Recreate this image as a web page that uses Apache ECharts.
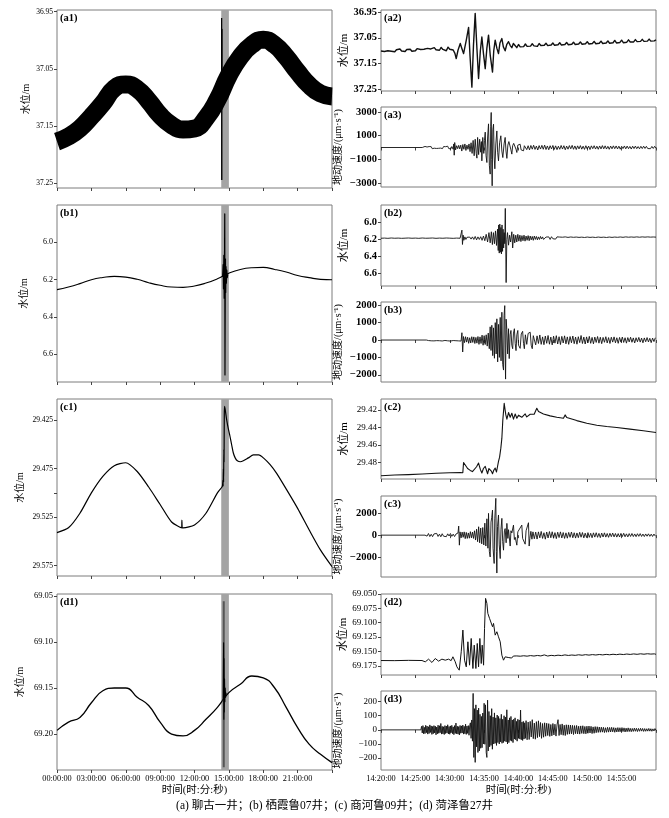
<!DOCTYPE html>
<html><head><meta charset="utf-8">
<script src="https://cdn.jsdelivr.net/npm/echarts@6/dist/echarts.min.js"></script>
<style>html,body{margin:0;padding:0;background:#fff}#c{width:669px;height:818px}</style>
</head><body><div id="c"></div>
<script>
// ---------------- tick labels ----------------
const dayTicks = [0, 3, 6, 9, 12, 15, 18, 21, 24];          // hours
const dayLabels = [0, 3, 6, 9, 12, 15, 18, 21];
const minuteTicks = [0, 5, 10, 15, 20, 25, 30, 35, 40];      // minutes after 14:20:00
const minuteLabels = [0, 5, 10, 15, 20, 25, 30, 35];
const a1Ticks = [36.95, 37.05, 37.15, 37.25];
const a2Ticks = [36.95, 37.05, 37.15, 37.25];
const a3Ticks = [3000, 1000, -1000, -3000];
const b1Ticks = [6.0, 6.2, 6.4, 6.6];
const b2Ticks = [6.0, 6.2, 6.4, 6.6];
const b3Ticks = [2000, 1000, 0, -1000, -2000];
const c1Ticks = [29.425, 29.475, 29.525, 29.575];
const c1MinorTicks = [29.425, 29.475, 29.5, 29.525, 29.575];
const c2Ticks = [29.42, 29.44, 29.46, 29.48];
const c3Ticks = [2000, 0, -2000];
const d1Ticks = [69.05, 69.10, 69.15, 69.20];
const d2Ticks = [69.050, 69.075, 69.100, 69.125, 69.150, 69.175];
const d3Ticks = [200, 100, 0, -100, -200];

// shaded window (hours)
const windowHours = [14.333, 15.0];

// ---------------- left column: 24 h water level (hourly samples, 00:00..24:00) ----------------
const a1Level = [37.177, 37.168, 37.154, 37.133, 37.110, 37.084, 37.077, 37.085, 37.106, 37.131, 37.148, 37.156, 37.154, 37.136, 37.104, 37.061, 37.029, 37.008, 36.999, 37.008, 37.029, 37.055, 37.078, 37.093, 37.098];
const a1Spike = [[14.36, 37.100], [14.37, 36.961], [14.38, 37.244], [14.39, 36.980], [14.40, 37.095]];

const b1Level = [6.254, 6.240, 6.222, 6.201, 6.189, 6.183, 6.187, 6.199, 6.217, 6.231, 6.240, 6.242, 6.235, 6.219, 6.196, 6.166, 6.146, 6.137, 6.135, 6.146, 6.160, 6.178, 6.190, 6.199, 6.201];
const b1Spike = [[14.45, 6.186], [14.5, 6.12], [14.53, 6.25], [14.56, 6.07], [14.59, 6.30], [14.62, 6.10], [14.64, 5.848], [14.66, 6.712], [14.68, 6.32], [14.7, 6.09], [14.72, 6.27], [14.75, 6.13], [14.78, 6.22], [14.82, 6.15], [14.86, 6.19], [14.9, 6.172]];

const c1Level = [[0, 29.541], [1, 29.536], [2, 29.521], [3, 29.500], [4, 29.483], [5, 29.472], [6, 29.469], [7, 29.478], [8, 29.494], [9, 29.512], [10, 29.530], [10.88, 29.536], [10.9, 29.528], [10.93, 29.536], [11, 29.536], [12, 29.533], [13, 29.521], [14, 29.500], [14.4, 29.494], [14.45, 29.492], [14.48, 29.487], [14.5, 29.493], [14.52, 29.475], [14.54, 29.489], [14.56, 29.455], [14.58, 29.468], [14.6, 29.420], [14.63, 29.411], [14.7, 29.416], [14.81, 29.425], [14.95, 29.434], [15.1, 29.442], [15.25, 29.451], [15.39, 29.459], [15.55, 29.464], [15.74, 29.467], [16.0, 29.468], [16.26, 29.467], [16.7, 29.464], [17.14, 29.461], [17.6, 29.461], [18.01, 29.464], [18.6, 29.471], [19.17, 29.480], [20.05, 29.497], [21, 29.516], [22, 29.538], [23, 29.559], [24, 29.576]];

const d1Level = [69.196, 69.187, 69.182, 69.166, 69.153, 69.150, 69.150, 69.160, 69.169, 69.187, 69.200, 69.202, 69.196, 69.184, 69.171, 69.155, 69.146, 69.137, 69.139, 69.150, 69.171, 69.193, 69.211, 69.222, 69.231];
const d1Spike = [[14.5, 69.163], [14.54, 69.101], [14.56, 69.184], [14.58, 69.118], [14.6, 69.176], [14.62, 69.140], [14.65, 69.165], [14.68, 69.150], [14.72, 69.160], [14.76, 69.155]];
const d1Stripe = [[14.55, 69.056], [14.555, 69.236]];

// ---------------- right column: 14:20-15:00 (minutes after 14:20) ----------------
// a2 water level
const a2Pre = [37.101, 37.095, 37.103, 37.097, 37.100, 37.094, 37.102, 37.098, 37.104, 37.096,
  37.100, 37.093, 37.101, 37.097, 37.103, 37.095, 37.099, 37.094, 37.102, 37.096,
  37.100, 37.092, 37.099, 37.095, 37.101, 37.094, 37.098, 37.091, 37.097, 37.093,
  37.099, 37.088, 37.096, 37.090, 37.098, 37.087, 37.095, 37.091, 37.100, 37.086,
  37.094, 37.089, 37.097]; // every 0.25 min from 0
const a2Quake = [[10.75, 37.110], [10.94, 37.130], [11.2, 37.098], [11.53, 37.072], [11.75, 37.090], [12.01, 37.111], [12.4, 37.060], [12.74, 37.010], [12.95, 37.120], [13.22, 37.240], [13.45, 37.080], [13.70, 36.956], [13.95, 37.090], [14.19, 37.207], [14.45, 37.100], [14.67, 37.047], [14.9, 37.110], [15.16, 37.169], [15.4, 37.090], [15.64, 37.040], [15.9, 37.120], [16.22, 37.182], [16.4, 37.100], [16.61, 37.059], [16.85, 37.090], [17.09, 37.111], [17.3, 37.070], [17.58, 37.053], [17.8, 37.085], [18.06, 37.100], [18.3, 37.075], [18.55, 37.065], [18.8, 37.080], [19.03, 37.088], [19.25, 37.072]];
const a2Post = [37.080, 37.088, 37.076, 37.085, 37.078, 37.084, 37.074, 37.083, 37.077, 37.082,
  37.073, 37.081, 37.075, 37.083, 37.072, 37.080, 37.076, 37.079, 37.071, 37.080,
  37.074, 37.078, 37.070, 37.079, 37.073, 37.077, 37.069, 37.078, 37.072, 37.076,
  37.068, 37.077, 37.071, 37.075, 37.067, 37.076, 37.069, 37.074, 37.066, 37.075,
  37.068, 37.073, 37.065, 37.074, 37.067, 37.072, 37.064, 37.073, 37.066, 37.071,
  37.063, 37.072, 37.065, 37.070, 37.062, 37.071, 37.064, 37.069, 37.060, 37.070,
  37.063, 37.068, 37.059, 37.069, 37.062, 37.067, 37.058, 37.066, 37.060, 37.066,
  37.057, 37.065, 37.059, 37.064, 37.056, 37.064, 37.058, 37.063, 37.055, 37.063,
  37.057, 37.062, 37.058]; // every 0.25 min from 19.5

// a3 ground velocity
const a3Quiet = [[0, 0], [6.0, 0]];
const a3Pre = [60, -50, 90, -70, 40, -90, 80, -40, 70, -100, 50, -60, 100, -80, 40, -70, 90, -50, 60, -90, 80, -40, 70, -60, 110, -90, 50, -120, 80]; // every 0.15 min from 6.1
const a3Quake = [[10.5, -150], [10.58, 300], [10.65, -650], [10.72, 420], [10.85, -200], [11.0, 150], [11.15, -100], [11.3, 180], [11.45, -120], [11.6, 200], [11.75, -300], [11.9, 250], [12.05, -150], [12.2, 300], [12.35, -250], [12.5, 200], [12.65, -150], [12.8, 300], [12.95, -350], [13.1, 400], [13.25, -500], [13.4, 600], [13.55, -700], [13.7, 700], [13.85, -500], [13.95, -900], [14.05, 850], [14.2, -600], [14.35, 700], [14.5, -400], [14.6, 500], [14.67, -1130], [14.8, 850], [14.95, -500], [15.05, 600], [15.16, 1300], [15.28, -700], [15.4, -1270], [15.5, 800], [15.64, 2000], [15.76, -1500], [15.88, -2250], [15.96, 1800], [16.03, 2960], [16.1, -1000], [16.17, -3240], [16.27, 1500], [16.37, 1970], [16.46, -800], [16.56, -1800], [16.7, 300], [16.85, 1400], [16.97, -400], [17.09, -1130], [17.25, 400], [17.43, 990], [17.58, -300], [17.72, -850], [17.9, 300], [18.06, 850], [18.18, -300], [18.31, -920], [18.45, 200], [18.6, 500], [18.79, 560], [18.9, -200], [19.03, -560], [19.15, 150], [19.3, 350], [19.52, 420], [19.64, -150], [19.76, -420], [19.9, 200], [20.05, 250], [20.24, 280], [20.38, -200], [20.5, -250], [20.73, -280], [20.85, 150], [21.0, 200]];
const a3Post = [-180, 150, -200, 170, -140, 190, -160, 120, -210, 160, -130, 180, -150, 200, -170, 130, -190, 150, -120, 170,
  -160, 140, -180, 110, -150, 170, -130, 150, -190, 120, -140, 160, -110, 180, -150, 130, -170, 140, -120, 160,
  -140, 110, -160, 150, -130, 120, -170, 140, -100, 150, -130, 110, -150, 130, -120, 160, -110, 140, -130, 100,
  -150, 120, -110, 140, -100, 130, -120, 110, -140, 100, -90, 130, -110, 120, -100, 90, -130, 110, -90, 120,
  -100, 80, -110, 100, -90, 110, -80, 100, -90, 70, -100, 90, -80, 100, -70]; // every 0.2 min from 21.2

// b2 water level
const b2Pre = [6.186, 6.184, 6.187, 6.183, 6.186, 6.184, 6.187, 6.185, 6.183, 6.186, 6.184, 6.187, 6.183, 6.186, 6.185, 6.183, 6.187, 6.184, 6.186, 6.183, 6.185, 6.187, 6.184, 6.186]; // every 0.5 min from 0
const b2Quake = [[11.65, 6.180], [11.77, 6.091], [11.85, 6.259], [11.95, 6.150], [12.05, 6.210], [12.2, 6.170], [12.35, 6.200], [12.5, 6.175], [12.7, 6.198], [12.9, 6.172], [13.1, 6.196], [13.3, 6.170], [13.5, 6.200], [13.7, 6.165], [13.9, 6.205], [14.1, 6.170], [14.3, 6.200], [14.5, 6.168], [14.7, 6.210], [14.9, 6.160], [15.1, 6.215], [15.3, 6.140], [15.5, 6.230], [15.7, 6.120], [15.88, 6.240], [16.05, 6.110], [16.2, 6.260], [16.35, 6.120], [16.5, 6.250], [16.65, 6.100], [16.8, 6.270], [16.95, 6.080], [17.05, 6.330], [17.12, 6.030], [17.2, 6.360], [17.28, 6.020], [17.36, 6.350], [17.44, 6.060], [17.52, 6.370], [17.6, 6.030], [17.68, 6.340], [17.76, 6.080], [17.84, 6.300], [17.92, 6.120], [18.0, 6.250], [18.08, 5.836], [18.2, 6.706], [18.3, 6.200], [18.4, 6.120], [18.55, 6.267], [18.7, 6.150], [18.85, 6.230], [19.03, 6.110], [19.15, 6.300], [19.3, 6.140], [19.45, 6.240], [19.6, 6.150], [19.75, 6.230], [19.9, 6.140], [20.05, 6.220], [20.2, 6.150], [20.35, 6.225], [20.5, 6.155], [20.65, 6.215], [20.8, 6.150], [20.95, 6.220], [21.1, 6.160], [21.25, 6.210], [21.4, 6.155], [21.55, 6.215], [21.7, 6.160], [21.85, 6.205], [22.0, 6.165], [22.15, 6.210], [22.3, 6.160], [22.45, 6.200], [22.6, 6.165], [22.75, 6.205], [22.9, 6.170], [23.05, 6.200], [23.2, 6.165], [23.35, 6.195], [23.5, 6.170], [23.65, 6.200]];
const b2Post = [6.198, 6.172, 6.195, 6.170, 6.200, 6.168, 6.192, 6.175, 6.196, 6.170,
  6.193, 6.172, 6.190, 6.174, 6.195, 6.170, 6.190, 6.176, 6.193, 6.171,
  6.189, 6.175, 6.192, 6.172, 6.188, 6.176, 6.190, 6.173, 6.187, 6.177,
  6.189, 6.172, 6.186, 6.176, 6.188, 6.173, 6.185, 6.177, 6.187, 6.172,
  6.184, 6.176, 6.186, 6.173, 6.183, 6.177, 6.185, 6.172, 6.182, 6.176,
  6.184, 6.172, 6.181, 6.175, 6.183, 6.171, 6.180, 6.175, 6.182, 6.170,
  6.179, 6.174, 6.181, 6.171, 6.178, 6.174, 6.180, 6.170, 6.177, 6.174,
  6.179, 6.170, 6.176, 6.173, 6.178, 6.170, 6.176, 6.173, 6.177, 6.171,
  6.175, 6.173]; // every 0.2 min from 23.8

// b3 ground velocity
const b3Quiet = [[0, 0], [6.6, 0]];
const b3Pre = [40, -30, 55, -45, 25, -50, 45, -35, 60, -40, 30, -55, 35, -25, 50, -45, 35, -60, 40, -30, 55, -40, 25, -50, 45]; // every 0.2 min from 6.7
const b3Quake = [[11.65, -60], [11.77, 420], [11.88, -690], [12.0, 200], [12.15, -150], [12.3, 190], [12.45, -120], [12.6, 160], [12.75, -190], [12.9, 130], [13.05, -170], [13.2, 190], [13.35, -140], [13.5, 180], [13.65, -200], [13.8, 150], [13.95, -180], [14.1, 200], [14.25, -250], [14.4, 180], [14.55, -200], [14.7, 280], [14.85, -300], [15.0, 250], [15.15, -260], [15.3, 300], [15.45, -350], [15.6, 400], [15.75, -500], [15.88, 760], [16.0, -600], [16.12, 850], [16.25, -900], [16.37, 700], [16.5, -1050], [16.62, 1000], [16.75, -800], [16.85, 1220], [16.97, -1260], [17.1, 900], [17.22, -1000], [17.34, 1300], [17.46, -1200], [17.58, 1600], [17.7, -1400], [17.82, -1730], [17.9, 1400], [18.0, 1980], [18.06, -800], [18.12, -2250], [18.2, 1200], [18.3, 600], [18.42, -800], [18.55, 650], [18.65, -1070], [18.78, 300], [18.9, 550], [19.03, -300], [19.15, -500], [19.27, 400], [19.4, 650], [19.52, -200], [19.64, -610], [19.76, 300], [19.9, 550], [20.0, -300], [20.24, -480], [20.4, 350], [20.6, 500], [20.73, -200], [20.85, -500], [21.0, 300], [21.2, -250], [21.4, 380], [21.7, 450], [21.85, -300], [22.0, -500], [22.15, 250], [22.3, 300]];
const b3Post = [-280, 240, -200, 290, -250, 180, -270, 230, -190, 260, -240, 170, -280, 220, -180, 250, -230, 190, -260, 210,
  -170, 240, -220, 180, -250, 200, -160, 230, -210, 170, -240, 190, -150, 260, -200, 170, -230, 180, -160, 210,
  -190, 150, -220, 170, -140, 200, -180, 160, -210, 150, -130, 190, -170, 140, -200, 160, -120, 180, -160, 130,
  -190, 150, -120, 170, -140, 130, -180, 140, -110, 160, -130, 120, -170, 130, -100, 150, -120, 110, -160, 120,
  -100, 140, -110, 100, -150, 110, -90, 130]; // every 0.2 min from 22.5

// c2 water level
const c2Level = [[0, 29.4953], [2, 29.4945], [4, 29.4940], [6, 29.4932], [8, 29.4925], [10, 29.4918], [11.53, 29.4915], [11.9, 29.4918], [12.01, 29.4801], [12.25, 29.4808], [12.6, 29.4870], [12.98, 29.4892], [13.3, 29.4905], [13.56, 29.4922], [13.9, 29.4850], [14.19, 29.4808], [14.45, 29.4880], [14.67, 29.4922], [14.9, 29.4870], [15.16, 29.4846], [15.5, 29.4930], [15.7, 29.4870], [15.88, 29.4854], [16.05, 29.4900], [16.22, 29.4930], [16.4, 29.4890], [16.61, 29.4865], [16.8, 29.4910], [16.95, 29.4915], [17.09, 29.4789], [17.25, 29.4740], [17.43, 29.4637], [17.58, 29.4523], [17.72, 29.4314], [17.92, 29.4124], [18.05, 29.4200], [18.16, 29.4257], [18.31, 29.4306], [18.55, 29.4230], [18.79, 29.4284], [19.03, 29.4238], [19.27, 29.4306], [19.52, 29.4246], [19.76, 29.4295], [20.0, 29.4260], [20.24, 29.4238], [20.48, 29.4284], [20.97, 29.4246], [21.2, 29.4280], [21.45, 29.4276], [21.7, 29.4250], [21.94, 29.4230], [22.28, 29.4250], [22.66, 29.4181], [22.91, 29.4219], [23.63, 29.4246], [24.6, 29.4268], [25.57, 29.4284], [26.54, 29.4295], [26.78, 29.4257], [27.02, 29.4287], [28.47, 29.4322], [29.93, 29.4352], [31.38, 29.4375], [32.83, 29.4390], [34.29, 29.4401], [36.22, 29.4420], [38.16, 29.4439], [40, 29.4458]];

// c3 ground velocity
const c3Quiet = [[0, 0], [6.4, 0]];
const c3Pre = [120, -90, 150, -130, 80, -140, 110, -70, 160, -120, 90, -150, 130, -100, 70, -140, 120, -80, 150, -110, 90, -130, 100, -60]; // every 0.2 min from 6.5
const c3Quake = [[11.2, 200], [11.3, 830], [11.4, -920], [11.5, 300], [11.65, -250], [11.8, 280], [11.95, -200], [12.1, 300], [12.25, -320], [12.4, 250], [12.55, -300], [12.7, 200], [12.85, -280], [13.0, 320], [13.15, -250], [13.3, 280], [13.45, -300], [13.6, 400], [13.75, -450], [13.9, 550], [14.05, -600], [14.2, 770], [14.35, -700], [14.5, 650], [14.65, -800], [14.8, 700], [14.95, -900], [15.1, 1100], [15.25, -1000], [15.4, 1500], [15.55, -1200], [15.64, 2000], [15.76, -1500], [15.88, -2000], [16.0, 1200], [16.1, 1600], [16.22, 2300], [16.3, -1200], [16.46, -2600], [16.55, 1500], [16.7, 3380], [16.78, -1500], [16.85, -3480], [16.95, 800], [17.09, 1850], [17.2, -900], [17.34, -2150], [17.45, 500], [17.58, 1540], [17.7, -600], [17.82, -1380], [17.95, 400], [18.06, 600], [18.2, -700], [18.31, 1080], [18.45, -300], [18.55, 500], [18.79, -1000], [18.9, 400], [19.03, 200], [19.27, 920], [19.4, -400], [19.52, -200], [19.76, -920], [19.9, 300], [20.1, 400], [20.48, 920], [20.6, -300], [20.75, -200], [20.97, -830], [21.1, 400], [21.3, 500], [21.45, 1140], [21.55, -1000], [21.65, -300], [21.8, 350], [21.95, -370], [22.1, 300]];
const c3Post = [-330, 280, -360, 300, -250, 340, -300, 220, -370, 290, -260, 330, -240, 310, -280, 230, -320, 270, -220, 300,
  -260, 240, -300, 210, -280, 250, -200, 290, -240, 220, -270, 200, -230, 260, -190, 240, -250, 180, -220, 230,
  -200, 170, -240, 210, -180, 220, -200, 160, -230, 190, -170, 210, -180, 150, -200, 170, -140, 190, -160, 150,
  -180, 140, -170, 160, -130, 170, -150, 120, -160, 140, -120, 150, -130, 110, -140, 130, -110, 140, -120, 100,
  -130, 110, -100, 120, -110, 90, -120, 100, -90]; // every 0.2 min from 22.3

// d2 water level
const d2Quake = [[0, 69.1658], [2, 69.1660], [4, 69.1655], [5.96, 69.1658], [6.2, 69.1669], [6.44, 69.1681], [6.92, 69.1634], [7.41, 69.1692], [7.89, 69.1623], [8.38, 69.1669], [8.86, 69.1634], [9.35, 69.1652], [9.83, 69.1634], [10.2, 69.1660], [10.46, 69.1593], [10.8, 69.1681], [11.04, 69.1768], [11.38, 69.1826], [11.67, 69.1506], [11.91, 69.1128], [12.15, 69.1652], [12.4, 69.1768], [12.64, 69.1332], [12.88, 69.1739], [13.12, 69.1274], [13.37, 69.1797], [13.56, 69.1390], [13.8, 69.1797], [14.0, 69.1361], [14.19, 69.1768], [14.38, 69.1274], [14.58, 69.1710], [14.72, 69.1390], [14.92, 69.1739], [15.06, 69.1099], [15.21, 69.0576], [15.3, 69.0564], [15.4, 69.0663], [15.54, 69.0837], [15.79, 69.0925], [15.98, 69.0896], [16.22, 69.1070], [16.37, 69.1012], [16.61, 69.1216], [16.85, 69.1157], [17.09, 69.1245], [17.34, 69.1332], [17.58, 69.1565], [17.82, 69.1652], [18.06, 69.1594], [18.31, 69.1623]];
const d2Post = [69.1605, 69.1585, 69.1615, 69.1580, 69.1610, 69.1578, 69.1612, 69.1583, 69.1607, 69.1575,
  69.1609, 69.1582, 69.1604, 69.1572, 69.1606, 69.1580, 69.1603, 69.1570, 69.1600, 69.1578,
  69.1598, 69.1560, 69.1545, 69.1580, 69.1595, 69.1568, 69.1598, 69.1575, 69.1593, 69.1565,
  69.1596, 69.1572, 69.1590, 69.1560, 69.1592, 69.1570, 69.1588, 69.1562, 69.1590, 69.1568,
  69.1586, 69.1558, 69.1588, 69.1566, 69.1584, 69.1556, 69.1586, 69.1564, 69.1582, 69.1555,
  69.1584, 69.1562, 69.1580, 69.1553, 69.1582, 69.1560, 69.1578, 69.1551, 69.1580, 69.1558,
  69.1576, 69.1549, 69.1578, 69.1556, 69.1574, 69.1547, 69.1576, 69.1554, 69.1572, 69.1545,
  69.1574, 69.1552, 69.1570, 69.1543, 69.1572, 69.1550, 69.1568, 69.1541, 69.1570, 69.1548,
  69.1566, 69.1540, 69.1568, 69.1546, 69.1565, 69.1542, 69.1550]; // every 0.25 min from 18.5

// d3 ground velocity
const d3Quiet = [[0, 0], [5.8, 0]];
const d3Pre = [25, -22, 30, -28, 18, -26, 32, -20, 27, -30, 22, -25, 35, -18, 28, -32, 24, -27, 30, -22,
  26, -35, 20, -28, 33, -24, 29, -20, 45, -30, 25, -28, 22, -33, 30, -26, 27, -22, 36, -29,
  24, -31, 28, -20, 32, -27, 21, -34, 30, -25, 48, -28, 26, -30, 23, -36, 31, -24, 28, -22,
  34, -30, 25, -27, 40, -32, 27, -25, 30, -38, 29]; // every 0.1 min from 5.9
const d3Quake = [50, -60, 70, -80, 258, -195, 150, -230, 177, -120,
  140, -160, 154, -149, 110, -130, 95, -126, 119, -100,
  188, -102, 177, -160, -195, 210, -149, 130, -120, 100,
  -110, 150, -137, 90, -100, 120, -95, 85, -110, 105,
  -90, 95, -100, 80, -85, 110, -95, 75, -90, 100,
  -80, 90, -85, 142, -100, 70, -90, 85, -75, 95,
  -80, 70, -90, 75, -65, 85, -70, 60, -80, 75,
  -60, 70, -65, 140, -70, 55, -75, 60, -65, 50,
  -60]; // every 0.1 min from 13.0
const d3Post = [65, -70, 55, -68, 60, -50, 72, -62, 48, -66,
  58, -55, 64, -48, 52, -60, 45, -52, 50, -45,
  47, -40, 44, -46, 38, -42, 45, -36, 40, -44,
  35, 72, -40, 38, -34, 42, -38, 33, -40, 36,
  -32, 35, -30, 34, -28, 32, -33, 30, -27, 31,
  -29, 26, -30, 28, -25, 29, -27, 24, -28, 26,
  -24, 27, -22, 25, -26, 21, -24, 23, -20, 22,
  -18, 20, -17, 19, -16, 18, -19, 15, -17, 18,
  -16, 17, -15, 18, -14, 16, -17, 14, -15, 16,
  -14, 15, -13, 16, -12, 14, -15, 12, -13, 14,
  -12, 11, -13, 10, -11, 12, -10, 11, -12, 10,
  -10, 11, -9, 10, -11, 9, -10, 8, -9, 10,
  -9, 8, -10, 7, -8, 9, -5]; // every 0.15 min from 21.1

// ---------------- helpers ----------------
const hourly = vals => vals.map((v, i) => [i, v]);
const sampled = (t0, dt, vals) => vals.map((v, i) => [+(t0 + i * dt).toFixed(3), v]);

const a2Data = [...sampled(0, 0.25, a2Pre), ...a2Quake, ...sampled(19.5, 0.25, a2Post)];
const a3Data = [...a3Quiet, ...sampled(6.1, 0.15, a3Pre), ...a3Quake, ...sampled(21.2, 0.2, a3Post)];
const b2Data = [...sampled(0, 0.5, b2Pre), ...b2Quake, ...sampled(23.8, 0.2, b2Post)];
const b3Data = [...b3Quiet, ...sampled(6.7, 0.2, b3Pre), ...b3Quake, ...sampled(22.5, 0.2, b3Post)];
const c3Data = [...c3Quiet, ...sampled(6.5, 0.2, c3Pre), ...c3Quake, ...sampled(22.3, 0.2, c3Post)];
const d2Data = [...d2Quake, ...sampled(18.5, 0.25, d2Post)];
const d3Data = [...d3Quiet, ...sampled(5.9, 0.1, d3Pre), ...sampled(13.0, 0.1, d3Quake), ...sampled(21.1, 0.15, d3Post)];

const NUM = 'Liberation Serif';
const CJK = '"Liberation Serif", "Noto Sans CJK SC"';
const pad = n => (n < 10 ? '0' : '') + n;
const num = (v, d) => (v < 0 ? '\u2212' : '') + Math.abs(v).toFixed(d);

// ---------------- layout ----------------
const LX = 57, RX = 381, W = 275;
const panels = [
  { tag: '(a1)', g: [LX, 10, 178], col: 'L', min: 36.947, max: 37.258, inv: true, labels: a1Ticks, dec: 2, fs: 7.5, fw: 'normal', name: '水位/m', nfs: 10, ng: 26 },
  { tag: '(a2)', g: [RX, 10, 81], col: 'R', min: 36.943, max: 37.255, inv: true, labels: a2Ticks, dec: 2, fs: 10.5, fw: 'bold', name: '水位/m', nfs: 11, ng: 31 },
  { tag: '(a3)', g: [RX, 107, 80], col: 'R', min: -3340, max: 3425, inv: false, labels: a3Ticks, dec: 0, fs: 10.5, fw: 'bold', name: '地动速度/(μm·s⁻¹)', nfs: 10, ng: 38 },
  { tag: '(b1)', g: [LX, 205, 177], col: 'L', min: 5.80, max: 6.75, inv: true, labels: b1Ticks, dec: 1, fs: 8, fw: 'normal', name: '水位/m', nfs: 10, ng: 28 },
  { tag: '(b2)', g: [RX, 205, 81], col: 'R', min: 5.796, max: 6.746, inv: true, labels: b2Ticks, dec: 1, fs: 10.5, fw: 'bold', name: '水位/m', nfs: 11, ng: 31 },
  { tag: '(b3)', g: [RX, 302, 80], col: 'R', min: -2417, max: 2189, inv: false, labels: b3Ticks, dec: 0, fs: 10.5, fw: 'bold', name: '地动速度/(μm·s⁻¹)', nfs: 10, ng: 38 },
  { tag: '(c1)', g: [LX, 399, 177], col: 'L', min: 29.4034, max: 29.5856, inv: true, labels: c1Ticks, ticks: c1MinorTicks, dec: 3, fs: 7.5, fw: 'normal', name: '水位/m', nfs: 10, ng: 32 },
  { tag: '(c2)', g: [RX, 399, 80], col: 'R', min: 29.4075, max: 29.499, inv: true, labels: c2Ticks, dec: 2, fs: 9, fw: 'normal', name: '水位/m', nfs: 11, ng: 31 },
  { tag: '(c3)', g: [RX, 496, 81], col: 'R', min: -3843, max: 3594, inv: false, labels: c3Ticks, dec: 0, fs: 10.5, fw: 'bold', name: '地动速度/(μm·s⁻¹)', nfs: 10, ng: 38 },
  { tag: '(d1)', g: [LX, 594, 176], col: 'L', min: 69.048, max: 69.239, inv: true, labels: d1Ticks, dec: 2, fs: 8.5, fw: 'normal', name: '水位/m', nfs: 10, ng: 32, bottom: true },
  { tag: '(d2)', g: [RX, 594, 81], col: 'R', min: 69.05, max: 69.191, inv: true, labels: d2Ticks, dec: 3, fs: 9, fw: 'normal', name: '水位/m', nfs: 11, ng: 31 },
  { tag: '(d3)', g: [RX, 691, 79], col: 'R', min: -284, max: 275, inv: false, labels: d3Ticks, dec: 0, fs: 9, fw: 'normal', name: '地动速度/(μm·s⁻¹)', nfs: 10, ng: 38, bottom: true }
];

const grids = [], xAxes = [], yAxes = [], graphics = [];
panels.forEach((p, i) => {
  grids.push({ left: p.g[0], top: p.g[1], width: W, height: p.g[2], show: true, borderColor: '#7d7d7d', borderWidth: 1, backgroundColor: '#fff' });
  const isL = p.col === 'L';
  xAxes.push({
    type: 'value', gridIndex: i, min: 0, max: isL ? 24 : 40,
    axisLine: { show: false },
    axisTick: { show: true, inside: false, length: 3, customValues: isL ? dayTicks : minuteTicks, lineStyle: { color: '#444', width: 1 } },
    axisLabel: {
      show: !!p.bottom, customValues: isL ? dayLabels : minuteLabels, margin: 5,
      fontFamily: NUM, fontSize: 8.3, color: '#000',
      formatter: v => isL ? pad(v) + ':00:00' : '14:' + pad(20 + v) + ':00'
    },
    splitLine: { show: false },
    name: p.bottom ? '时间(时:分:秒)' : '', nameLocation: 'middle', nameGap: 15,
    nameTextStyle: { fontFamily: CJK, fontSize: 10.5, color: '#000' }
  });
  yAxes.push({
    type: 'value', gridIndex: i, min: p.min, max: p.max, inverse: p.inv,
    axisLine: { show: false },
    axisTick: { show: true, inside: false, length: 3, customValues: p.ticks || p.labels, lineStyle: { color: '#444', width: 1 } },
    axisLabel: { customValues: p.labels, margin: 4, fontFamily: NUM, fontSize: p.fs, fontWeight: p.fw, color: '#000', formatter: v => num(v, p.dec) },
    splitLine: { show: false },
    name: p.name, nameLocation: 'middle', nameGap: p.ng, nameRotate: 90,
    nameTextStyle: { fontFamily: CJK, fontSize: p.nfs, color: '#000' }
  });
  graphics.push({ type: 'text', left: p.g[0] + 3, top: p.g[1] + 3, silent: true,
    style: { text: p.tag, fontFamily: NUM, fontSize: 10.5, fontWeight: 'bold', fill: '#000' } });
});
graphics.push({ type: 'text', left: 'center', top: 800, silent: true,
  style: { text: '(a) 聊古一井；(b) 栖霞鲁07井；(c) 商河鲁09井；(d) 菏泽鲁27井', fontFamily: CJK, fontSize: 11.5, fill: '#000' } });

const band = { silent: true, itemStyle: { color: '#a4a4a4' }, data: [[{ xAxis: windowHours[0] }, { xAxis: windowHours[1] }]] };
const mk = (gi, data, color, width, extra) => Object.assign({
  type: 'line', xAxisIndex: gi, yAxisIndex: gi, data, symbol: 'none', showSymbol: false,
  silent: true, animation: false, lineStyle: { color, width, join: 'round' }
}, extra || {});

const series = [
  mk(0, hourly(a1Level), '#000', 18, { markArea: band, smooth: 0.5 }),
  mk(0, a1Spike, '#000', 1),
  mk(1, a2Data, '#111', 1.4),
  mk(2, a3Data, '#111', 0.9),
  mk(3, hourly(b1Level), '#000', 1.1, { markArea: band, smooth: 0.5 }),
  mk(3, b1Spike, '#000', 1.2),
  mk(4, b2Data, '#111', 0.9),
  mk(5, b3Data, '#111', 0.9),
  mk(6, c1Level, '#000', 1.2, { markArea: band, smooth: 0.25 }),
  mk(7, c2Level, '#111', 1.1),
  mk(8, c3Data, '#111', 0.9),
  mk(9, hourly(d1Level), '#000', 1.3, { markArea: band, smooth: 0.5 }),
  mk(9, d1Stripe, '#555', 2),
  mk(9, d1Spike, '#000', 1.1),
  mk(10, d2Data, '#111', 1),
  mk(11, d3Data, '#111', 0.9)
];

const chart = echarts.init(document.getElementById('c'), null, { renderer: 'canvas' });
chart.setOption({
  backgroundColor: '#fff', animation: false,
  grid: grids, xAxis: xAxes, yAxis: yAxes, series, graphic: graphics
});
</script></body></html>
